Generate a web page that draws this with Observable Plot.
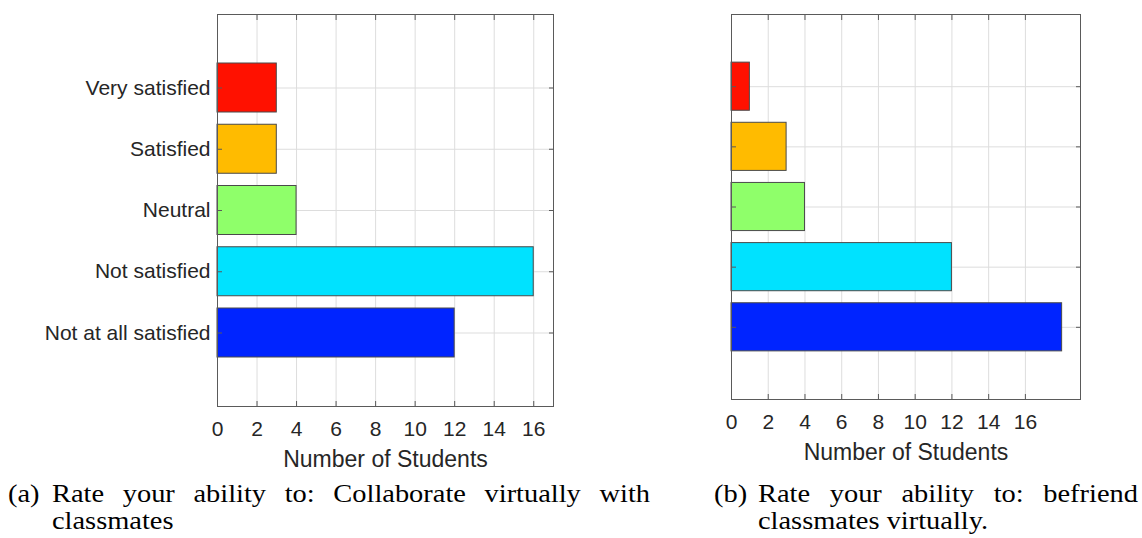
<!DOCTYPE html>
<html>
<head>
<meta charset="utf-8">
<script src="https://cdn.jsdelivr.net/npm/d3@7"></script>
<script src="https://cdn.jsdelivr.net/npm/@observablehq/plot@0.6"></script>
<style>
  html, body { margin: 0; padding: 0; background: #fff; }
  #root { position: relative; width: 1142px; height: 538px; overflow: hidden; background: #fff; }
  .chart { position: absolute; top: 0; }
  .cap { position: absolute; font-family: "Liberation Serif", "Times New Roman", serif; font-size: 24.5px; line-height: 27px; color: #000; white-space: nowrap; transform-origin: left top; transform: scaleX(1.16); }
  .just { white-space: normal; text-align: justify; text-align-last: justify; }
</style>
</head>
<body>
<div id="root"></div>
<script>
const categories = ["Very satisfied", "Satisfied", "Neutral", "Not satisfied", "Not at all satisfied"];
const valuesA = [3, 3, 4, 16, 12];
const valuesB = [1, 3, 4, 12, 18];
const barColors = ["#FF1100", "#FFBB00", "#8FFF6A", "#00E2FF", "#0024FF"];
const xTicks = [0, 2, 4, 6, 8, 10, 12, 14, 16];
const xLabel = "Number of Students";
const captionATag = "(a)";
const captionALine1 = "Rate your ability to: Collaborate virtually with";
const captionALine2 = "classmates";
const captionBTag = "(b)";
const captionBLine1 = "Rate your ability to: befriend";
const captionBLine2 = "classmates virtually.";

const n = categories.length;
const positions = categories.map((c, i) => n - i);

function makeChart(values, {width, height, marginLeft, marginRight, marginTop, marginBottom, xMax, showY}) {
  const rows = categories.map((c, i) => ({category: c, value: values[i], pos: n - i, color: barColors[i]}));
  const marks = [
    Plot.gridX(xTicks, {stroke: "#dddddd", strokeOpacity: 1}),
    Plot.gridY(positions, {stroke: "#dddddd", strokeOpacity: 1}),
    Plot.rectX(rows, {x1: 0, x2: "value", y1: d => d.pos - 0.4, y2: d => d.pos + 0.4, fill: d => d.color, stroke: "#4a4a4a", strokeWidth: 1}),
    Plot.frame({stroke: "#5a5a5a", strokeWidth: 1}),
    Plot.axisX(xTicks, {anchor: "bottom", tickSize: 0, tickPadding: 15, fontSize: 21, label: null}),
    Plot.axisX(xTicks, {anchor: "bottom", tickSize: -5, text: null, label: null, stroke: "#5a5a5a"}),
    Plot.axisX(xTicks, {anchor: "top", tickSize: -5, text: null, label: null, stroke: "#5a5a5a"}),
    Plot.axisY(positions, {anchor: "left", tickSize: -5, text: null, label: null, stroke: "#5a5a5a"}),
    Plot.axisY(positions, {anchor: "right", tickSize: -5, text: null, label: null, stroke: "#5a5a5a"}),
    Plot.text([xLabel], {frameAnchor: "bottom", dy: 60, fontSize: 23, fill: "#262626"})
  ];
  if (showY) {
    marks.push(Plot.axisY(positions, {anchor: "left", tickSize: 0, tickPadding: 7, fontSize: 21, label: null, tickFormat: p => categories[n - p]}));
  }
  return Plot.plot({
    width, height, marginLeft, marginRight, marginTop, marginBottom,
    style: {fontFamily: "'Liberation Sans', Arial, sans-serif", color: "#262626", background: "transparent", overflow: "visible"},
    x: {domain: [0, xMax]},
    y: {domain: [-0.2, 6.2]},
    color: {type: "identity"},
    marks
  });
}

const root = document.getElementById("root");

const c1 = makeChart(valuesA, {width: 570, height: 475, marginLeft: 217, marginRight: 17, marginTop: 14, marginBottom: 69, xMax: 17, showY: true});
c1.classList.add("chart");
c1.style.left = "0px";
root.appendChild(c1);

const c2 = makeChart(valuesB, {width: 500, height: 475, marginLeft: 131, marginRight: 20, marginTop: 14, marginBottom: 76, xMax: 19, showY: false});
c2.classList.add("chart");
c2.style.left = "600px";
root.appendChild(c2);

const SX = 1.16;
function cap(text, left, top, widthPx, justify) {
  const d = document.createElement("div");
  d.className = "cap" + (justify ? " just" : "");
  d.style.left = left + "px";
  d.style.top = top + "px";
  if (widthPx) d.style.width = (widthPx / SX) + "px";
  d.textContent = text;
  root.appendChild(d);
}
cap(captionATag, 8, 480);
cap(captionALine1, 52, 480, 598, true);
cap(captionALine2, 52, 507);
cap(captionBTag, 714, 480);
cap(captionBLine1, 758, 480, 380, true);
cap(captionBLine2, 758, 507);
</script>
</body>
</html>
